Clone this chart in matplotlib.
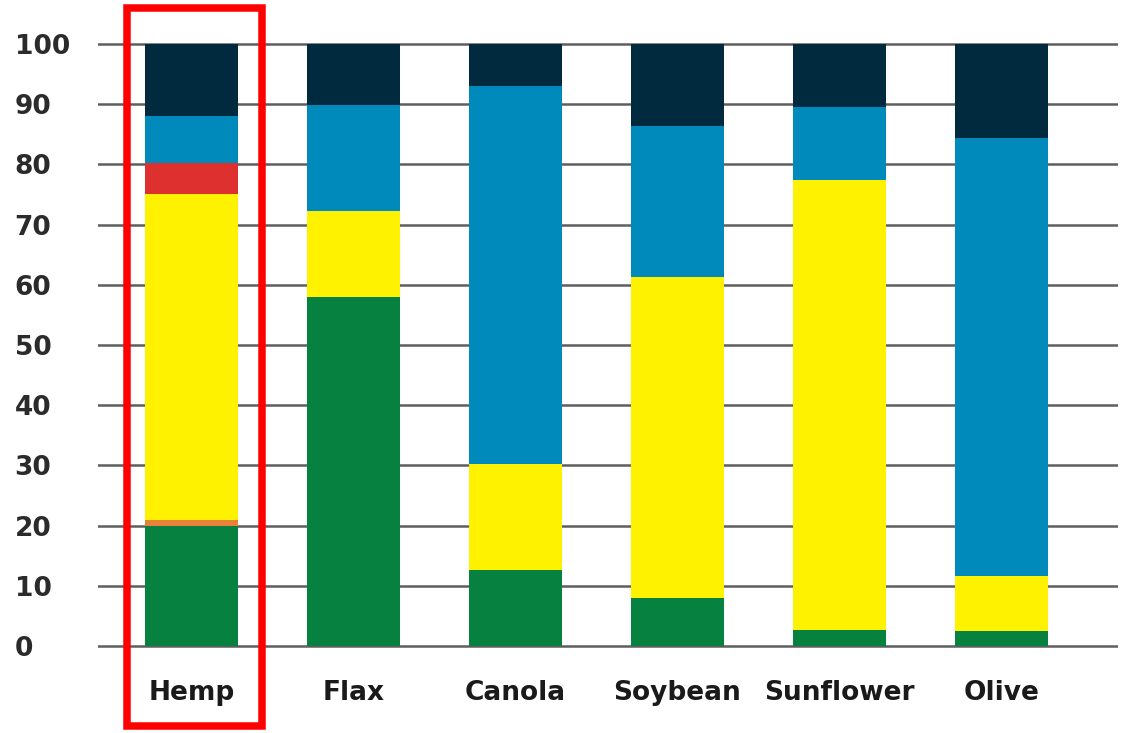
import matplotlib.pyplot as plt
import numpy as np
from matplotlib.patches import Rectangle

# oils and their fatty acid composition (percent, stacked bottom to top)
oils = ["Hemp", "Flax", "Canola", "Soybean", "Sunflower", "Olive"]
green = [20.0, 58.0, 12.7, 8.0, 2.7, 2.5]
orange = [1.0, 0.0, 0.0, 0.0, 0.0, 0.0]
yellow = [54.0, 14.3, 17.5, 53.3, 74.7, 9.2]
red = [5.2, 0.0, 0.0, 0.0, 0.0, 0.0]
blue = [7.8, 17.6, 62.8, 25.0, 12.1, 72.6]
navy = [12.0, 10.1, 7.0, 13.7, 10.5, 15.7]

y_ticks = [0, 10, 20, 30, 40, 50, 60, 70, 80, 90, 100]

layers = [
    (green, "#078140"),
    (orange, "#e8823a"),
    (yellow, "#fff200"),
    (red, "#df3030"),
    (blue, "#0089bb"),
    (navy, "#012a3e"),
]

fig = plt.figure(figsize=(11.3, 7.33), dpi=100)
ax = fig.add_axes([98 / 1130, 1 - 648 / 733, 1020 / 1130, 606 / 733])

x = np.arange(len(oils))
bottom = np.zeros(len(oils))
for values, color in layers:
    ax.bar(x, values, width=0.574, bottom=bottom, color=color, zorder=3)
    bottom += np.array(values)

ax.set_xlim(-0.577, 5.72)
ax.set_ylim(-0.3, 100.3)

# horizontal gridlines
for t in y_ticks:
    ax.axhline(t, color="#5e5e5e", lw=1.8, zorder=1)

ax.set_yticks(y_ticks)
ax.set_yticklabels([str(t) for t in y_ticks], fontsize=19, fontweight="semibold",
                   color="#2b2b2b")
for lab in ax.get_yticklabels():
    lab.set_horizontalalignment("left")
ax.tick_params(axis="y", length=0, pad=60)

ax.set_xticks(x)
ax.set_xticklabels(oils, fontsize=19, fontweight="bold", color="#1a1a1a")
ax.tick_params(axis="x", length=0, pad=23)

for side in ["top", "right", "left", "bottom"]:
    ax.spines[side].set_visible(False)

# red highlight box around Hemp
box = Rectangle((127 / 1130, 1 - 726 / 733), 135 / 1130, 718 / 733,
                transform=fig.transFigure, fill=False, edgecolor="#ff0000",
                lw=5.4, zorder=10)
fig.patches.append(box)

plt.savefig("out.png", dpi=100)
